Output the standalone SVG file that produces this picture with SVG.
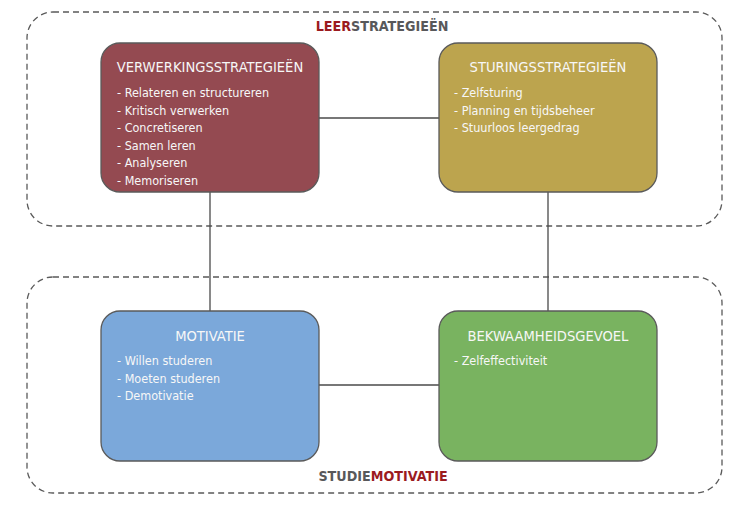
<svg xmlns="http://www.w3.org/2000/svg" width="743" height="509" viewBox="0 0 743 509">
<style>
.grp{fill:none;stroke:#5a5a5a;stroke-width:1.3;stroke-dasharray:6 4}
.box{stroke:#5a5a5a;stroke-width:1.3}
.ttl{font-family:"Liberation Sans Narrow","DejaVu Sans Condensed","Liberation Sans",sans-serif;font-size:14.6px;fill:#f7f7f7;text-anchor:middle}
.itm{font-family:"Liberation Sans Narrow","DejaVu Sans Condensed","Liberation Sans",sans-serif;font-size:12.5px;fill:#f7f7f7}
.lbl{font-family:"Liberation Sans Narrow","DejaVu Sans Condensed","Liberation Sans",sans-serif;font-size:14.2px;font-weight:bold;text-anchor:middle}
.conn{stroke:#4a4a4a;stroke-width:1.3;fill:none}
</style>
<rect width="743" height="509" fill="#ffffff"/>
<g id="group-leer">
<rect class="grp" x="27" y="12" width="695" height="214" rx="26"/>
<text class="lbl" x="382" y="31"><tspan fill="#9b1b1f">LEER</tspan><tspan fill="#58585a">STRATEGIEËN</tspan></text>
</g>
<g id="group-studie">
<rect class="grp" x="27" y="277" width="695" height="216" rx="26"/>
<text class="lbl" x="383" y="481"><tspan fill="#58585a">STUDIE</tspan><tspan fill="#9b1b1f">MOTIVATIE</tspan></text>
</g>
<g id="connectors">
<line class="conn" x1="319" y1="118" x2="439" y2="118"/>
<line class="conn" x1="210" y1="192" x2="210" y2="311"/>
<line class="conn" x1="548" y1="192" x2="548" y2="311"/>
<line class="conn" x1="319" y1="385" x2="439" y2="385"/>
</g>
<g id="verwerking">
<rect class="box" x="101" y="43" width="218" height="149" rx="19" fill="#944a51"/>
<text class="ttl" x="210" y="72">VERWERKINGSSTRATEGIEËN</text>
<text class="itm" x="117" y="97">-  Relateren en structureren</text>
<text class="itm" x="117" y="114.5">-  Kritisch verwerken</text>
<text class="itm" x="117" y="132">-  Concretiseren</text>
<text class="itm" x="117" y="149.5">-  Samen leren</text>
<text class="itm" x="117" y="167">-  Analyseren</text>
<text class="itm" x="117" y="184.5">-  Memoriseren</text>
</g>
<g id="sturing">
<rect class="box" x="439" y="43" width="218" height="149" rx="19" fill="#bca44e"/>
<text class="ttl" x="548" y="72">STURINGSSTRATEGIEËN</text>
<text class="itm" x="454" y="97">-  Zelfsturing</text>
<text class="itm" x="454" y="114.5">-  Planning en tijdsbeheer</text>
<text class="itm" x="454" y="132">-  Stuurloos leergedrag</text>
</g>
<g id="motivatie">
<rect class="box" x="101" y="311" width="218" height="150" rx="19" fill="#7ba8da"/>
<text class="ttl" x="210" y="341">MOTIVATIE</text>
<text class="itm" x="117" y="365">-  Willen studeren</text>
<text class="itm" x="117" y="382.5">-  Moeten studeren</text>
<text class="itm" x="117" y="400">-  Demotivatie</text>
</g>
<g id="bekwaamheid">
<rect class="box" x="439" y="311" width="218" height="150" rx="19" fill="#79b360"/>
<text class="ttl" x="548" y="341">BEKWAAMHEIDSGEVOEL</text>
<text class="itm" x="454" y="365">-  Zelfeffectiviteit</text>
</g>
</svg>
